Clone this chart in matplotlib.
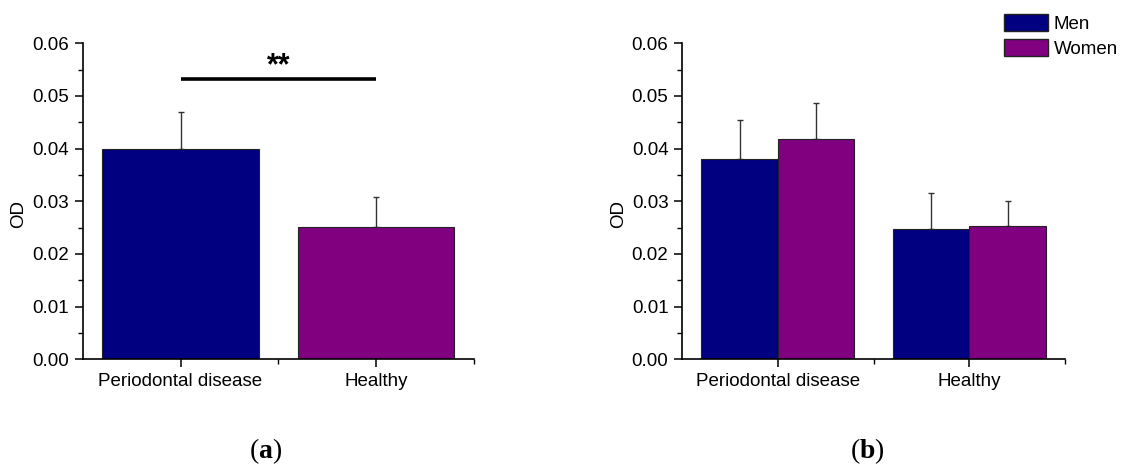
import matplotlib
matplotlib.use("Agg")
import matplotlib.pyplot as plt
import numpy as np
from matplotlib.ticker import MultipleLocator, FixedLocator
from matplotlib.patches import Patch

plt.rcParams['font.family'] = ['Liberation Sans', 'DejaVu Sans']
plt.rcParams['mathtext.fontset'] = 'custom'
plt.rcParams['mathtext.rm'] = 'Liberation Serif'
plt.rcParams['mathtext.bf'] = 'Liberation Serif:bold'

categories = ["Periodontal disease", "Healthy"]
# Panel (a)
a_values = [0.0399, 0.0251]
a_err = [0.0071, 0.0058]
# Panel (b)
men_values = [0.0380, 0.0247]
men_err = [0.0074, 0.0069]
women_values = [0.0419, 0.0254]
women_err = [0.0067, 0.0047]
series_names = ["Men", "Women"]
sig_label = "**"
sig_y = 0.0533
panel_labels = ["a", "b"]

NAVY = "#000080"
PURPLE = "#800080"
FS = 13.5

fig = plt.figure(figsize=(11.24, 4.67), dpi=100)
ax1 = fig.add_axes([0.0736, 0.2306, 0.3481, 0.6767])
ax2 = fig.add_axes([0.6070, 0.2306, 0.3405, 0.6767])

def style(ax, xlab):
    ax.set_xlim(-0.5, 1.5)
    ax.set_ylim(0, 0.06)
    ax.spines['top'].set_visible(False)
    ax.spines['right'].set_visible(False)
    for s in ('left', 'bottom'):
        ax.spines[s].set_linewidth(1.2)
    ax.yaxis.set_minor_locator(MultipleLocator(0.005))
    ax.set_yticks(np.arange(0, 0.0601, 0.01))
    ax.set_yticklabels([f"{v:.2f}" for v in np.arange(0, 0.0601, 0.01)])
    ax.set_xticks(range(len(categories)))
    ax.set_xticklabels(categories)
    ax.xaxis.set_minor_locator(FixedLocator([0.5, 1.5]))
    ax.tick_params(axis='both', which='major', direction='out', length=6, width=1.1, labelsize=FS, pad=4)
    ax.tick_params(axis='both', which='minor', direction='out', length=3.5, width=1.0)
    ax.set_ylabel("OD", fontsize=FS)
    ax.yaxis.set_label_coords(xlab, 0.46)

x = np.arange(len(categories))
ax1.bar(x, a_values, width=0.8, color=[NAVY, PURPLE], edgecolor="#222222", linewidth=0.8, zorder=2)
ax1.errorbar(x, a_values, yerr=[np.zeros(len(a_err)), a_err], fmt='none', ecolor="#333333",
             elinewidth=1.0, capsize=2.3, capthick=1.0, zorder=1)
ax1.plot([0, 1], [sig_y, sig_y], color='black', lw=2.6, clip_on=False, solid_capstyle='butt')
ax1.text(0.5, 0.0557, sig_label, ha='center', va='center', fontsize=22, fontweight='bold')
style(ax1, -0.142)

w = 0.4
ax2.bar(x - w / 2, men_values, width=w, color=NAVY, edgecolor="#222222", linewidth=0.8, zorder=2)
ax2.bar(x + w / 2, women_values, width=w, color=PURPLE, edgecolor="#222222", linewidth=0.8, zorder=2)
ax2.errorbar(x - w / 2, men_values, yerr=[np.zeros(2), men_err], fmt='none', ecolor="#333333",
             elinewidth=1.0, capsize=2.3, capthick=1.0, zorder=1)
ax2.errorbar(x + w / 2, women_values, yerr=[np.zeros(2), women_err], fmt='none', ecolor="#333333",
             elinewidth=1.0, capsize=2.3, capthick=1.0, zorder=1)
style(ax2, -0.144)

handles = [Patch(facecolor=NAVY, edgecolor="#222222", label=series_names[0]),
           Patch(facecolor=PURPLE, edgecolor="#222222", label=series_names[1])]
fig.legend(handles=handles, loc='upper right', bbox_to_anchor=(0.998, 0.977), frameon=False,
           fontsize=FS, handlelength=2.35, handleheight=1.0, handletextpad=0.3, labelspacing=0.3,
           borderaxespad=0.0, borderpad=0.2)

for lab, xc in zip(panel_labels, [0.236, 0.772]):
    fig.text(xc, 0.019, "(" + r"$\mathbf{" + lab + "}$" + ")", fontsize=20,
             family='Liberation Serif', ha='center', va='baseline')

fig.savefig("out.png", dpi=100)
